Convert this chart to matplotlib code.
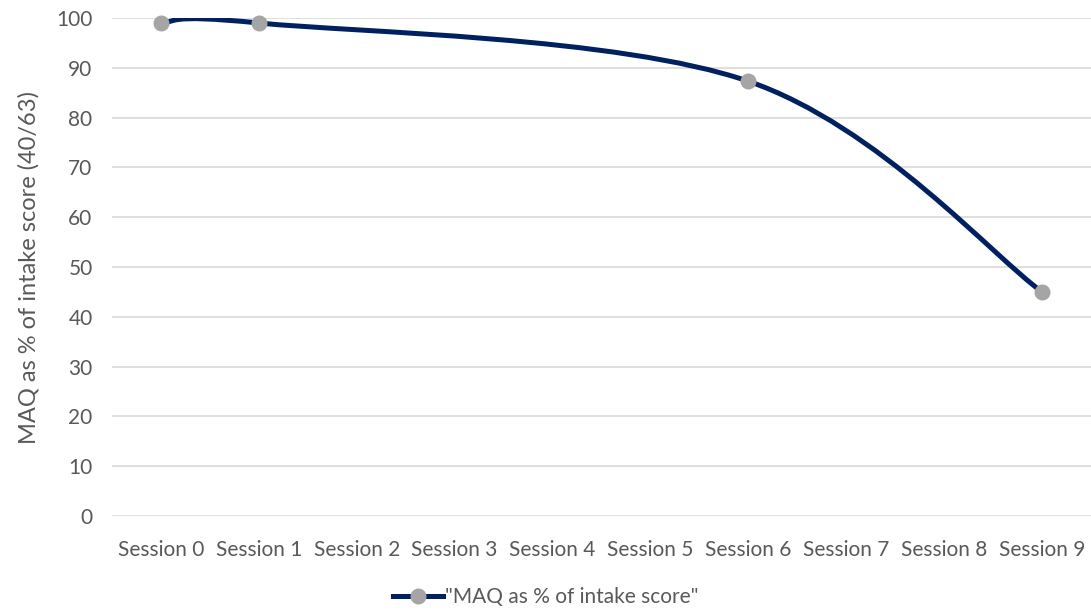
import numpy as np
from matplotlib import pyplot as plt
from matplotlib.path import Path
from matplotlib.patches import PathPatch
from matplotlib.lines import Line2D

sessions = ['Session 0', 'Session 1', 'Session 2', 'Session 3', 'Session 4',
            'Session 5', 'Session 6', 'Session 7', 'Session 8', 'Session 9']
# only these sessions have a score, the others are empty
scored_idx = [0, 1, 6, 9]
scores = [99, 99, 87.3, 45]
series_name = '"MAQ as % of intake score"'
y_label = 'MAQ as % of intake score (40/63)'

navy = '#002060'
grey_marker = '#A5A5A5'
text_grey = '#595959'

plt.rcParams['font.family'] = ['Lato', 'DejaVu Sans']

fig = plt.figure(figsize=(10.91, 6.12), dpi=100)
ax = fig.add_axes([112 / 1091, 1 - 516 / 612, 979 / 1091, 498 / 612])

ax.set_xlim(-0.5, len(sessions) - 0.5)
ax.set_ylim(0, 100)
ax.set_yticks(range(0, 101, 10))
ax.set_xticks(range(len(sessions)))
ax.set_xticklabels(sessions)
ax.tick_params(length=0, labelsize=15, labelcolor=text_grey)
ax.tick_params(axis='x', pad=17)
ax.tick_params(axis='y', pad=14)
ax.grid(axis='y', color='#D9D9D9', linewidth=1.2)
ax.set_axisbelow(True)
for s in ax.spines.values():
    s.set_visible(False)
ax.set_ylabel(y_label, fontsize=17, color=text_grey, labelpad=12)

# smoothed line like a spreadsheet: cubic bezier through the points
px = np.array(scored_idx, dtype=float)
py = np.array(scores, dtype=float)
pts = np.column_stack([px, py])
verts = [pts[0]]
codes = [Path.MOVETO]
n = len(pts)
for i in range(n - 1):
    p0 = pts[max(i - 1, 0)]
    p1 = pts[i]
    p2 = pts[i + 1]
    p3 = pts[min(i + 2, n - 1)]
    c1 = p1 + (p2 - p0) / 6.0
    c2 = p2 - (p3 - p1) / 6.0
    verts += [c1, c2, p2]
    codes += [Path.CURVE4] * 3
curve = PathPatch(Path(verts, codes), facecolor='none', edgecolor=navy,
                  linewidth=3.6, capstyle='round', joinstyle='round', zorder=3)
ax.add_patch(curve)
ax.plot(scored_idx, scores, linestyle='none', marker='o', markersize=10.5,
        color=grey_marker, zorder=4, clip_on=False)

handle = Line2D([], [], color=navy, linewidth=3.6, marker='o', markersize=10.5,
                markerfacecolor=grey_marker, markeredgecolor=grey_marker)
fig.legend([handle], [series_name], loc='center', bbox_to_anchor=(0.5, 1 - 597 / 612),
           frameon=False, fontsize=15, labelcolor=text_grey, handlelength=2.4,
           handletextpad=0.1)

fig.savefig('out.png', dpi=100)
